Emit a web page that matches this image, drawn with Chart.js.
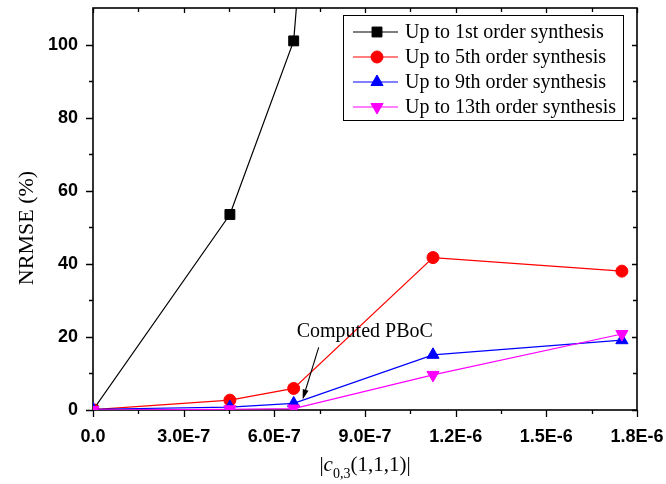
<!DOCTYPE html>
<html>
<head>
<meta charset="utf-8">
<script src="https://cdn.jsdelivr.net/npm/chart.js@4.4.1/dist/chart.umd.min.js"></script>
<style>
  html, body { margin: 0; padding: 0; background: #fff; }
  #wrap { width: 666px; height: 484px; }
</style>
</head>
<body>
<div id="wrap"><canvas id="nrmseChart"></canvas></div>
<script>
// |c_0,3(1,1,1)| values where the NRMSE was evaluated
const coeffValues = [0, 4.53e-7, 6.64e-7, 1.125e-6, 1.75e-6];

const seriesNames = [
  "Up to 1st order synthesis",
  "Up to 5th order synthesis",
  "Up to 9th order synthesis",
  "Up to 13th order synthesis",
];
// NRMSE (%) per synthesis order
const nrmse1st = [0, 53.5, 101, 570, 1000];
const nrmse5th = [0.1, 2.7, 5.9, 41.7, 38];
const nrmse9th = [0.2, 0.8, 1.8, 15.1, 19.1];
const nrmse13th = [0, 0.2, 0.4, 9.6, 20.8];

const xTickValues = [0, 3e-7, 6e-7, 9e-7, 1.2e-6, 1.5e-6, 1.8e-6];
const xTickLabels = ["0.0", "3.0E-7", "6.0E-7", "9.0E-7", "1.2E-6", "1.5E-6", "1.8E-6"];
const yTickValues = [0, 20, 40, 60, 80, 100];
const yTickLabels = ["0", "20", "40", "60", "80", "100"];

// arrow points at the 9th order sample at the computed PBoC
const pbocIndex = 2;
const pbocText = "Computed PBoC";

const toPoints = ys => ys.map((v, i) => ({ x: coeffValues[i], y: v }));

const serif = "'Liberation Serif', 'Times New Roman', serif";
const sans = "'Liberation Sans', Arial, sans-serif";

const minorOf = vals => vals.slice(1).map((v, i) => (v + vals[i]) / 2);

// box, outward ticks on bottom/left, inward ticks on top/right
const axisFrame = {
  id: "axisFrame",
  beforeDatasetsDraw(chart) {
    const { ctx, chartArea: a, scales } = chart;
    const x = scales.x, y = scales.y;
    ctx.save();
    ctx.strokeStyle = "#000";
    ctx.lineWidth = 1.3;
    ctx.beginPath();
    const xt = (vals, out, inn) => vals.forEach(v => {
      const px = Math.round(x.getPixelForValue(v)) + 0.5;
      ctx.moveTo(px, a.bottom); ctx.lineTo(px, a.bottom + out);
      ctx.moveTo(px, a.top); ctx.lineTo(px, a.top + inn);
    });
    const yt = (vals, out, inn) => vals.forEach(v => {
      const py = Math.round(y.getPixelForValue(v)) + 0.5;
      ctx.moveTo(a.left, py); ctx.lineTo(a.left - out, py);
      ctx.moveTo(a.right, py); ctx.lineTo(a.right - inn, py);
    });
    xt(xTickValues, 7, 5);
    xt(minorOf(xTickValues), 4, 4);
    yt(yTickValues, 7, 5);
    yt(minorOf(yTickValues), 4, 4);
    ctx.stroke();
    ctx.lineWidth = 1.6;
    ctx.strokeRect(a.left, a.top, a.right - a.left, a.bottom - a.top);
    ctx.restore();
  },
};

function drawMarker(ctx, ds, cx, cy) {
  ctx.save();
  ctx.fillStyle = ds.pointBackgroundColor;
  ctx.strokeStyle = ds.pointBorderColor;
  ctx.lineWidth = 1;
  if (Chart.helpers && Chart.helpers.drawPoint) {
    Chart.helpers.drawPoint(ctx, {
      pointStyle: ds.pointStyle,
      rotation: ds.pointRotation || 0,
      radius: ds.pointRadius,
      borderWidth: 1,
    }, cx, cy);
  }
  ctx.restore();
}

// framed legend in the upper right corner of the plot
const boxLegend = {
  id: "boxLegend",
  afterDatasetsDraw(chart) {
    const { ctx, chartArea: a } = chart;
    const w = 280, h = 105;
    const left = a.right - 14 - w, top = a.top + 7;
    ctx.save();
    ctx.fillStyle = "#fff";
    ctx.fillRect(left, top, w, h);
    ctx.strokeStyle = "#000";
    ctx.lineWidth = 1;
    ctx.strokeRect(left + 0.5, top + 0.5, w, h);
    ctx.font = "20px " + serif;
    ctx.textBaseline = "middle";
    chart.data.datasets.forEach((ds, i) => {
      const cy = top + 17 + i * 25;
      ctx.strokeStyle = ds.borderColor;
      ctx.lineWidth = 1.2;
      ctx.beginPath();
      ctx.moveTo(left + 10, cy);
      ctx.lineTo(left + 55, cy);
      ctx.stroke();
      drawMarker(ctx, ds, left + 34, cy);
      ctx.fillStyle = "#000";
      ctx.fillText(seriesNames[i], left + 62, cy + 1);
    });
    ctx.restore();
  },
};

// "Computed PBoC" note with an arrow
const pbocNote = {
  id: "pbocNote",
  afterDatasetsDraw(chart) {
    const { ctx, scales } = chart;
    const px = scales.x.getPixelForValue(coeffValues[pbocIndex]);
    const py = scales.y.getPixelForValue(nrmse9th[pbocIndex]);
    const tip = { x: px + 9, y: py - 4 };
    const tail = { x: px + 25, y: py - 56 };
    const ang = Math.atan2(tip.y - tail.y, tip.x - tail.x);
    ctx.save();
    ctx.strokeStyle = "#000";
    ctx.fillStyle = "#000";
    ctx.lineWidth = 1.1;
    ctx.beginPath();
    ctx.moveTo(tail.x, tail.y);
    ctx.lineTo(tip.x - 8 * Math.cos(ang), tip.y - 8 * Math.sin(ang));
    ctx.stroke();
    ctx.beginPath();
    ctx.moveTo(tip.x, tip.y);
    ctx.lineTo(tip.x - 10 * Math.cos(ang) + 3 * Math.sin(ang), tip.y - 10 * Math.sin(ang) - 3 * Math.cos(ang));
    ctx.lineTo(tip.x - 10 * Math.cos(ang) - 3 * Math.sin(ang), tip.y - 10 * Math.sin(ang) + 3 * Math.cos(ang));
    ctx.closePath();
    ctx.fill();
    ctx.font = "20px " + serif;
    ctx.textBaseline = "alphabetic";
    ctx.fillText(pbocText, px + 3, py - 66);
    ctx.restore();
  },
};

// axis titles, the x one has an italic c with a subscript
const axisTitles = {
  id: "axisTitles",
  afterDraw(chart) {
    const { ctx, chartArea: a } = chart;
    ctx.save();
    ctx.fillStyle = "#000";
    ctx.textBaseline = "middle";
    ctx.textAlign = "center";
    ctx.font = "22px " + serif;
    ctx.translate(27, (a.top + a.bottom) / 2 + 19);
    ctx.rotate(-Math.PI / 2);
    ctx.fillText("NRMSE (%)", 0, 0);
    ctx.restore();

    ctx.save();
    ctx.fillStyle = "#000";
    ctx.textBaseline = "alphabetic";
    const parts = [
      { t: "|", f: "21px " + serif, dy: 0 },
      { t: "c", f: "italic 21px " + serif, dy: 0 },
      { t: "0,3", f: "14px " + serif, dy: 7 },
      { t: "(1,1,1)|", f: "21px " + serif, dy: 0 },
    ];
    let total = 0;
    parts.forEach(p => { ctx.font = p.f; p.w = ctx.measureText(p.t).width; total += p.w; });
    let cx = (a.left + a.right) / 2 - total / 2;
    const base = 471;
    parts.forEach(p => {
      ctx.font = p.f;
      ctx.fillText(p.t, cx, base + p.dy);
      cx += p.w;
    });
    ctx.restore();
  },
};

const series = [
  { data: nrmse1st, color: "#000000", style: "rect", radius: 7, rot: 0 },
  { data: nrmse5th, color: "#ff0000", style: "circle", radius: 6, rot: 0 },
  { data: nrmse9th, color: "#0000ff", style: "triangle", radius: 7, rot: 0 },
  { data: nrmse13th, color: "#ff00ff", style: "triangle", radius: 7, rot: 180 },
];

const ctx = document.getElementById("nrmseChart").getContext("2d");

new Chart(ctx, {
  type: "scatter",
  data: {
    datasets: series.map((s, i) => ({
      label: seriesNames[i],
      data: toPoints(s.data),
      showLine: true,
      borderColor: s.color,
      backgroundColor: s.color,
      borderWidth: 1.2,
      pointStyle: s.style,
      pointRotation: s.rot,
      pointRadius: s.radius,
      pointHoverRadius: s.radius,
      pointBackgroundColor: s.color,
      pointBorderColor: s.color,
      pointBorderWidth: 1,
      tension: 0,
      order: series.length - i,
    })),
  },
  options: {
    responsive: true,
    maintainAspectRatio: false,
    animation: false,
    layout: { padding: { left: 0, right: 29, top: 8, bottom: 0 } },
    scales: {
      x: {
        type: "linear",
        min: 0,
        max: 1.8e-6,
        afterBuildTicks: s => { s.ticks = xTickValues.map(v => ({ value: v })); },
        afterFit: s => {
          s.height = 74;
          s.paddingLeft = 0;
          s.paddingRight = 0;
        },
        grid: { display: false },
        border: { display: false },
        ticks: {
          color: "#000",
          padding: 8,
          maxRotation: 0,
          font: { family: sans, size: 18, weight: "bold" },
          callback: (v, i) => xTickLabels[i],
        },
      },
      y: {
        min: 0,
        max: 110,
        afterBuildTicks: s => { s.ticks = yTickValues.map(v => ({ value: v })); },
        afterFit: s => {
          s.width = 93;
          s.paddingTop = 0;
          s.paddingBottom = 0;
        },
        grid: { display: false },
        border: { display: false },
        ticks: {
          color: "#000",
          padding: 7,
          font: { family: sans, size: 18, weight: "bold" },
          callback: (v, i) => yTickLabels[i],
        },
      },
    },
    plugins: {
      legend: { display: false },
      tooltip: { enabled: false },
    },
  },
  plugins: [axisFrame, boxLegend, pbocNote, axisTitles],
});
</script>
</body>
</html>
